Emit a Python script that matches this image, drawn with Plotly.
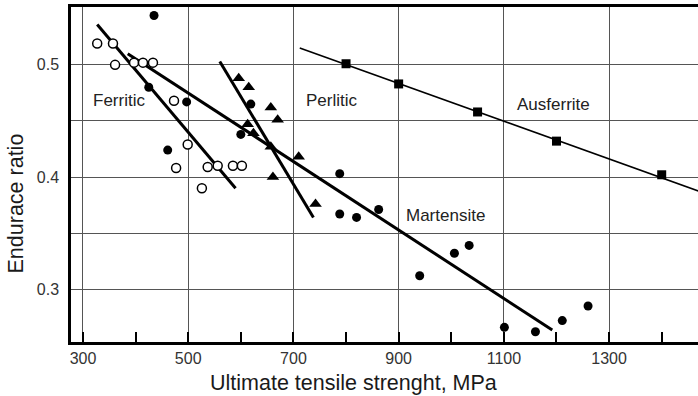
import plotly.graph_objects as go

# Ferritic irons (open circles)
ferritic_open_uts = [327, 357, 361, 397, 414, 433, 473, 499, 477, 537, 556, 585, 602, 526]
ferritic_open_ratio = [0.519, 0.519, 0.500, 0.502, 0.502, 0.502, 0.468, 0.429, 0.408, 0.409, 0.410, 0.410, 0.410, 0.390]

# Filled circles (ferritic / pearlitic / martensitic grades)
filled_uts = [435, 425, 497, 461, 600, 619, 788, 788, 820, 862, 940, 1006, 1034, 1101, 1160, 1211, 1260]
filled_ratio = [0.544, 0.480, 0.467, 0.424, 0.438, 0.465, 0.403, 0.367, 0.364, 0.371, 0.312, 0.332, 0.339, 0.266, 0.262, 0.272, 0.285]

# Perlitic irons (triangles)
perlitic_uts = [596, 615, 657, 670, 613, 624, 657, 710, 661, 742]
perlitic_ratio = [0.488, 0.480, 0.462, 0.451, 0.447, 0.439, 0.427, 0.418, 0.400, 0.376]

# Ausferritic irons (squares)
ausferrite_uts = [800, 900, 1050, 1200, 1400]
ausferrite_ratio = [0.501, 0.483, 0.458, 0.432, 0.402]

# Trend lines (end points)
ferritic_fit_uts = [327, 590]
ferritic_fit_ratio = [0.536, 0.390]
martensite_fit_uts = [385, 1192]
martensite_fit_ratio = [0.510, 0.2636]
perlitic_fit_uts = [560, 738]
perlitic_fit_ratio = [0.503, 0.364]
ausferrite_fit_uts = [712, 1470]
ausferrite_fit_ratio = [0.515, 0.3875]

x_tick_vals = [300, 500, 700, 900, 1100, 1300]
y_tick_vals = [0.30, 0.35, 0.40, 0.45, 0.50]
y_tick_text = ["0.3", "", "0.4", "", "0.5"]

fig = go.Figure()

for xs, ys, w in [
    (ferritic_fit_uts, ferritic_fit_ratio, 3),
    (martensite_fit_uts, martensite_fit_ratio, 3),
    (perlitic_fit_uts, perlitic_fit_ratio, 3),
    (ausferrite_fit_uts, ausferrite_fit_ratio, 1.6),
]:
    fig.add_trace(go.Scatter(x=xs, y=ys, mode="lines",
                             line=dict(color="black", width=w),
                             showlegend=False, hoverinfo="skip"))

fig.add_trace(go.Scatter(x=ferritic_open_uts, y=ferritic_open_ratio, mode="markers",
                         marker=dict(symbol="circle", size=9, color="white",
                                     line=dict(color="black", width=1.5)),
                         showlegend=False))
fig.add_trace(go.Scatter(x=filled_uts, y=filled_ratio, mode="markers",
                         marker=dict(symbol="circle", size=9, color="black"),
                         showlegend=False))
fig.add_trace(go.Scatter(x=perlitic_uts, y=perlitic_ratio, mode="markers",
                         marker=dict(symbol="triangle-up", size=11, color="black"),
                         showlegend=False))
fig.add_trace(go.Scatter(x=ausferrite_uts, y=ausferrite_ratio, mode="markers",
                         marker=dict(symbol="square", size=9, color="black"),
                         showlegend=False))

label_font = dict(family="Liberation Sans, Arial, sans-serif", size=17, color="#222")
for text, x, y in [
    ("Ferritic", 368, 0.468),
    ("Perlitic", 774, 0.468),
    ("Ausferrite", 1194, 0.4644),
    ("Martensite", 989, 0.3658),
]:
    fig.add_annotation(x=x, y=y, text=text, showarrow=False, font=label_font,
                       xanchor="center", yanchor="middle")

title_font = dict(family="Liberation Sans, Arial, sans-serif", size=21.5, color="#1a1a1a")
fig.add_annotation(xref="paper", yref="paper", x=0.4506, y=-0.122,
                   text="Ultimate tensile strenght, MPa", showarrow=False,
                   font=title_font, xanchor="center", yanchor="middle")
fig.add_annotation(xref="paper", yref="paper", x=-0.0876, y=0.4137,
                   text="Endurace ratio", showarrow=False, textangle=-90,
                   font=title_font, xanchor="center", yanchor="middle")

tick_font = dict(family="Liberation Sans, Arial, sans-serif", size=16, color="#333")

fig.update_xaxes(
    range=[277.2, 1469],
    tickmode="array", tickvals=x_tick_vals,
    ticks="inside", ticklen=10, tickwidth=2, tickcolor="black",
    minor=dict(tick0=300, dtick=100, ticks="inside", ticklen=10,
               tickwidth=2, tickcolor="black", showgrid=False),
    showgrid=True, gridcolor="#555", gridwidth=1,
    showline=True, linecolor="black", linewidth=2.5, mirror=True,
    zeroline=False, tickfont=tick_font,
)
fig.update_yaxes(
    range=[0.2529, 0.5516],
    tickmode="array", tickvals=y_tick_vals, ticktext=y_tick_text,
    ticks="", showgrid=True, gridcolor="#555", gridwidth=1,
    showline=True, linecolor="black", linewidth=2.5, mirror=False,
    zeroline=False, tickfont=tick_font, ticklabelstandoff=6,
)

fig.update_layout(
    width=698, height=396,
    margin=dict(l=71, r=0, t=7, b=54),
    plot_bgcolor="white", paper_bgcolor="white",
    showlegend=False,
)

fig.write_html("out.html")
